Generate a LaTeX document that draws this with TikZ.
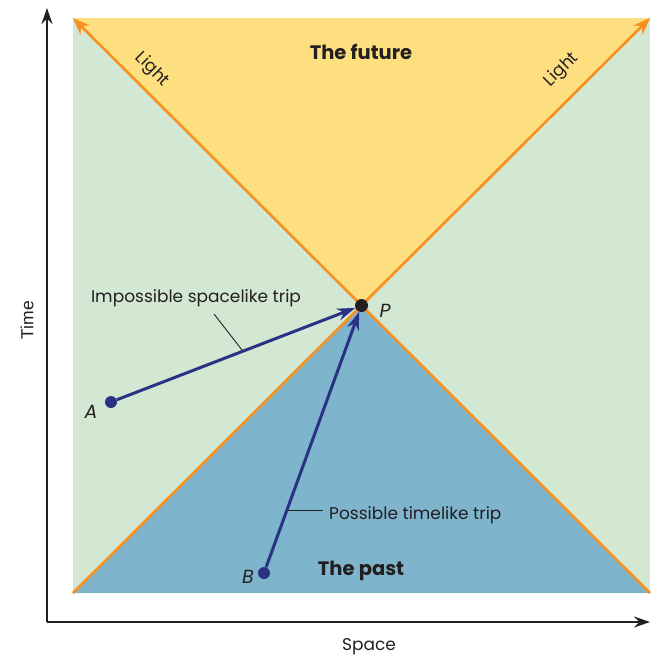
\documentclass[tikz,border=0pt]{standalone}
\usepackage{fontspec}
\setmainfont{Poppins}
\newfontfamily\axisfont{Liberation Sans}
\usetikzlibrary{arrows.meta}
\definecolor{spacegreen}{HTML}{D3E8D2}
\definecolor{futureyellow}{HTML}{FEDF80}
\definecolor{pastblue}{HTML}{7EB4CC}
\definecolor{lightorange}{HTML}{F7901E}
\definecolor{tripnavy}{HTML}{2B3183}
\definecolor{inkgray}{HTML}{231F20}
\tikzset{
  axisline/.style={draw=inkgray, line width=1.6pt, -{Stealth[length=16pt,width=11pt]}},
  lightray/.style={draw=lightorange, line width=2.6pt, -{Stealth[length=17pt,width=13pt]}},
  trip/.style={draw=tripnavy, line width=3pt, -{Stealth[length=18pt,width=12pt]}},
  tripdot/.style={circle, fill=tripnavy, inner sep=0pt, minimum size=12pt},
  pdot/.style={circle, fill=inkgray, inner sep=0pt, minimum size=13pt},
  leader/.style={draw=inkgray, line width=0.9pt},
  lbl/.style={text=inkgray, font=\fontsize{17}{20}\selectfont, inner sep=0pt},
  ptlbl/.style={text=inkgray, font=\fontsize{19}{22}\selectfont\itshape, inner sep=0pt},
  region/.style={font=\fontsize{19.5}{23}\selectfont\bfseries, text=inkgray, inner sep=0pt},
}
\begin{document}
\begin{tikzpicture}[x=1pt,y=-1pt]
\useasboundingbox (0,0) rectangle (651,659);
% regions
\fill[spacegreen] (73,18) rectangle (650,593);
\fill[futureyellow] (73,18) -- (650,18) -- (361.5,305.5) -- cycle;
\fill[pastblue] (73,593) -- (650,593) -- (361.5,305.5) -- cycle;
% coordinates
\coordinate (ll) at (73,593);
\coordinate (lr) at (650,593);
\coordinate (ul) at (73,18);
\coordinate (ur) at (650,18);
\coordinate (origin) at (47,622);
\coordinate (tend) at (47,8);
\coordinate (send) at (650,622);
% light rays
\draw[lightray] (lr) -- (ul);
\draw[lightray] (ll) -- (ur);
% axes
\draw[axisline] (origin) -- (tend);
\draw[axisline] (origin) -- (send);
\node[text=inkgray, font=\axisfont\fontsize{17.5}{20}\selectfont, rotate=90, inner sep=0pt] (time) at (27,320) {Time};
\node[lbl] (space) at (369,647) {Space};
% labels
\node[region] (future) at (361,52) {The future};
\node[region] (past) at (361,571) {The past};
\node[lbl, rotate=-45] (lightL) at (152,70) {Light};
\node[lbl, rotate=45] (lightR) at (562,70) {Light};
% points
\node[pdot] (P) at (361.5,305.5) {};
\node[tripdot] (A) at (111,402) {};
\node[tripdot] (B) at (264,573) {};
\node[ptlbl] (Plbl) at (385,311) {P};
\node[ptlbl] (Albl) at (91,412) {A};
\node[ptlbl] (Blbl) at (248,577) {B};
% trips
\draw[trip] (A) -- (P);
\draw[trip] (B) -- (P);
% trip labels
\node[lbl] (imp) at (196,298) {Impossible spacelike trip};
\coordinate (impA) at (214,314);
\coordinate (impB) at (242,350);
\draw[leader] (impA) -- (impB);
\node[lbl, anchor=west] (pos) at (329,515) {Possible timelike trip};
\coordinate (posA) at (288,510);
\coordinate (posB) at (323,510);
\draw[leader] (posA) -- (posB);
\end{tikzpicture}
\end{document}
